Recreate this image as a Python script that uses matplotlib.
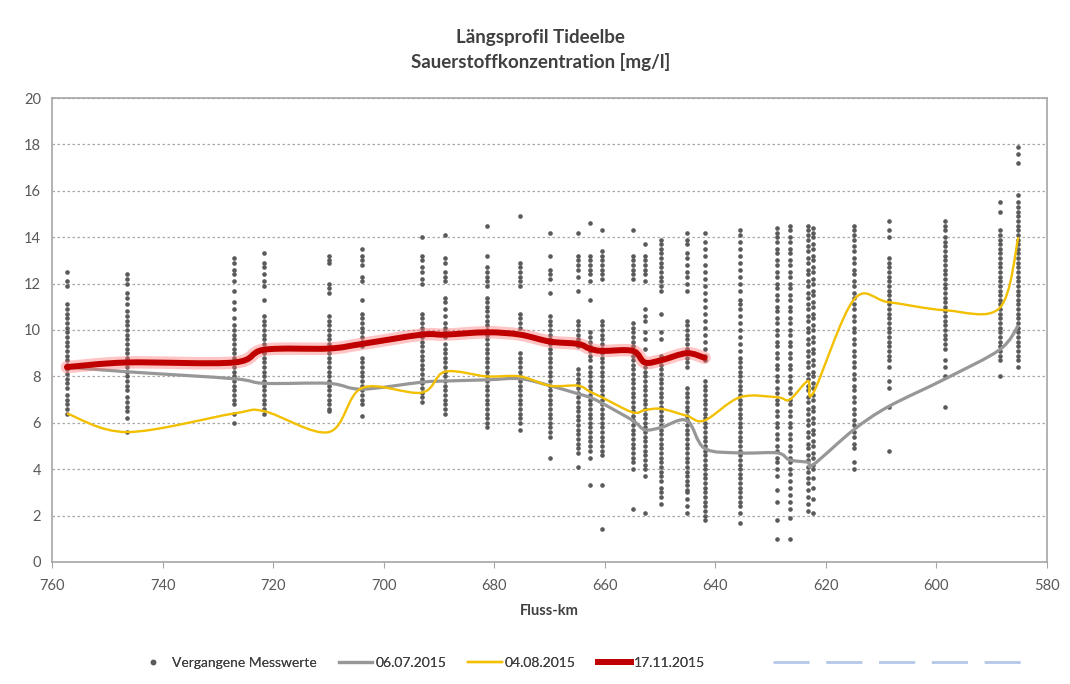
import numpy as np
import matplotlib.pyplot as plt
from matplotlib.path import Path
from matplotlib.patches import PathPatch
from matplotlib.lines import Line2D

plt.rcParams['font.family'] = ['Lato', 'DejaVu Sans']

# Messstationen (Fluss-km)
stationen = [757.3, 746.4, 727.1, 721.6, 709.9, 703.9, 693.1, 688.9, 681.3, 675.3,
             669.9, 664.8, 662.7, 660.5, 654.9, 652.7, 649.7, 645.1, 641.9, 635.5,
             628.7, 626.5, 623.2, 622.2, 614.9, 608.6, 598.3, 588.5, 585.1]

# vergangene Messwerte je Station [mg/l]
messwerte = [
    [12.5, 12.1, 11.9, 11.1, 10.9, 10.7, 10.5, 10.3, 10.1, 9.9, 9.7, 9.5, 9.3, 9.1, 8.9, 8.7, 8.5, 8.3,
     8.1, 7.9, 7.7, 7.5, 7.2, 7.0, 6.8, 6.6, 6.4],
    [12.4, 12.2, 12.0, 11.6, 11.4, 11.1, 10.8, 10.6, 10.4, 10.2, 10.0, 9.8, 9.6, 9.4, 9.2, 9.0, 8.8, 8.6,
     8.4, 8.2, 8.0, 7.8, 7.6, 7.4, 7.1, 6.9, 6.7, 6.5, 6.2, 5.6],
    [13.1, 12.9, 12.6, 12.4, 12.1, 11.7, 11.2, 10.9, 10.5, 10.2, 10.0, 9.8, 9.6, 9.4, 9.2, 9.0, 8.8, 8.6,
     8.4, 8.2, 8.0, 7.8, 7.6, 7.4, 7.2, 7.0, 6.8, 6.4, 6.0],
    [13.3, 12.9, 12.7, 12.4, 12.1, 11.9, 11.3, 10.6, 10.4, 10.2, 10.0, 9.8, 9.6, 9.4, 9.2, 9.0, 8.8, 8.6,
     8.4, 8.2, 8.0, 7.8, 7.6, 7.4, 7.2, 7.0, 6.8, 6.6, 6.4],
    [13.2, 13.0, 12.9, 12.0, 11.8, 11.6, 10.6, 10.4, 10.2, 10.0, 9.8, 9.6, 9.4, 9.2, 9.0, 8.8, 8.6, 8.4,
     8.2, 8.0, 7.8, 7.6, 7.4, 7.2, 7.0, 6.8, 6.6, 6.5],
    [13.5, 13.2, 13.0, 12.8, 12.3, 12.1, 11.3, 10.7, 10.5, 10.3, 10.1, 9.9, 9.7, 9.5, 9.3, 8.8, 8.6, 8.4,
     8.2, 8.0, 7.8, 7.6, 7.4, 7.2, 7.0, 6.8, 6.3],
    [14.0, 13.2, 13.0, 12.7, 12.5, 12.2, 12.0, 10.7, 10.5, 10.3, 10.1, 9.9, 9.7, 9.5, 9.3, 9.1, 8.9, 8.7,
     8.5, 8.3, 8.1, 7.9, 7.7, 7.5, 7.3, 7.1, 6.9],
    [14.1, 13.1, 12.9, 12.5, 12.3, 12.1, 11.4, 11.2, 10.9, 10.6, 10.3, 10.1, 9.9, 9.7, 9.4, 9.2, 9.0, 8.8,
     8.6, 8.4, 8.2, 8.0, 7.8, 7.6, 7.4, 7.2, 7.0, 6.8, 6.6, 6.4],
    [14.5, 13.2, 12.7, 12.5, 12.3, 12.1, 11.9, 11.4, 11.2, 11.0, 10.8, 10.6, 10.4, 10.2, 10.0, 9.8, 9.6,
     9.4, 9.2, 9.0, 8.8, 8.6, 8.4, 8.2, 8.0, 7.8, 7.6, 7.4, 7.2, 7.0, 6.8, 6.6, 6.4, 6.2, 6.0, 5.8],
    [14.9, 12.9, 12.7, 12.5, 12.3, 12.1, 11.9, 10.7, 10.5, 10.3, 10.1, 9.0, 8.8, 8.6, 8.4, 8.2, 8.0, 7.8,
     7.6, 7.4, 7.2, 7.0, 6.8, 6.6, 6.4, 6.2, 6.0, 5.7],
    [14.2, 13.2, 12.6, 12.4, 12.2, 11.6, 10.6, 10.4, 10.2, 10.0, 9.8, 9.6, 9.4, 9.2, 9.0, 8.8, 8.6, 8.4,
     8.2, 8.0, 7.8, 7.6, 7.4, 7.2, 7.0, 6.8, 6.6, 6.4, 6.2, 6.0, 5.8, 5.6, 5.4, 4.5],
    [14.2, 13.2, 13.0, 12.8, 12.6, 12.3, 11.7, 10.4, 10.2, 10.0, 9.8, 9.6, 9.3, 8.3, 8.1, 7.9, 7.7, 7.5,
     7.3, 7.1, 6.9, 6.7, 6.5, 6.3, 6.1, 5.9, 5.7, 5.5, 5.3, 5.1, 4.9, 4.7, 4.1],
    [14.6, 13.2, 13.0, 12.8, 12.6, 12.4, 12.1, 11.3, 9.9, 9.7, 9.5, 9.3, 9.1, 8.9, 8.7, 8.4, 8.2, 8.0,
     7.8, 7.6, 7.4, 7.2, 7.0, 6.8, 6.6, 6.4, 6.2, 6.0, 5.8, 5.6, 5.4, 5.2, 5.0, 4.8, 4.5, 3.3],
    [14.3, 13.4, 13.2, 13.0, 12.8, 12.6, 12.4, 12.2, 10.4, 10.2, 10.0, 9.8, 9.6, 9.4, 9.2, 9.0, 8.8, 8.6,
     8.4, 8.2, 8.0, 7.8, 7.6, 7.4, 7.2, 7.0, 6.8, 6.6, 6.4, 6.2, 6.0, 5.8, 5.6, 5.4, 5.2, 5.0, 4.8, 4.6,
     3.3, 1.4],
    [14.3, 13.2, 13.0, 12.8, 12.6, 12.4, 12.2, 10.3, 10.1, 9.9, 9.7, 9.5, 9.3, 9.1, 8.9, 8.7, 8.5, 8.3,
     8.1, 7.9, 7.7, 7.5, 7.3, 7.1, 6.9, 6.7, 6.5, 6.3, 6.1, 5.9, 5.7, 5.5, 5.3, 5.1, 4.9, 4.7, 4.5, 4.3,
     4.0, 2.3],
    [13.7, 13.2, 13.0, 12.8, 12.6, 12.4, 12.1, 10.9, 10.6, 10.4, 9.9, 9.6, 9.2, 8.4, 8.2, 8.0, 7.8, 7.6,
     7.4, 7.2, 7.0, 6.8, 6.6, 6.4, 6.2, 6.0, 5.8, 5.6, 5.4, 5.2, 5.0, 4.8, 4.6, 4.4, 4.2, 4.0, 3.7, 2.1],
    [13.9, 13.7, 13.5, 13.3, 13.1, 12.9, 12.7, 12.5, 12.3, 12.1, 11.9, 11.7, 10.7, 9.9, 9.6, 8.9, 8.7,
     8.5, 8.3, 8.1, 7.9, 7.7, 7.5, 7.3, 7.1, 6.9, 6.7, 6.5, 6.3, 6.1, 5.9, 5.7, 5.5, 5.3, 5.1, 4.9, 4.7,
     4.5, 4.3, 4.1, 3.9, 3.7, 3.5, 3.2, 3.0, 2.8, 2.5],
    [14.2, 13.9, 13.7, 13.3, 13.1, 12.8, 12.5, 12.3, 12.0, 11.7, 10.4, 10.2, 10.0, 9.8, 9.6, 9.4, 9.2,
     9.0, 8.8, 8.6, 8.4, 7.5, 7.3, 7.1, 6.9, 6.7, 6.5, 6.3, 6.1, 5.9, 5.7, 5.5, 5.3, 5.1, 4.9, 4.7, 4.5,
     4.3, 4.1, 3.9, 3.7, 3.5, 3.3, 3.1, 3.0, 2.7, 2.4, 2.1],
    [14.2, 13.8, 13.5, 13.2, 12.8, 12.5, 12.2, 11.9, 11.6, 11.3, 11.0, 10.7, 10.4, 10.1, 9.8, 9.5, 9.2,
     8.9, 8.7, 7.8, 7.6, 7.4, 7.2, 7.0, 6.8, 6.6, 6.4, 6.2, 6.0, 5.8, 5.6, 5.4, 5.2, 5.0, 4.8, 4.6, 4.4,
     4.2, 4.0, 3.8, 3.6, 3.4, 3.2, 3.0, 2.8, 2.6, 2.4, 2.2, 2.0, 1.8],
    [14.3, 14.1, 13.8, 13.5, 13.2, 12.9, 12.6, 12.3, 12.0, 11.7, 11.3, 11.1, 10.9, 10.6, 10.3, 10.0, 9.7,
     9.4, 9.1, 8.8, 8.6, 8.4, 8.2, 8.0, 7.8, 7.6, 7.4, 7.2, 7.0, 6.8, 6.6, 6.4, 6.2, 6.0, 5.8, 5.6, 5.4,
     5.2, 5.0, 4.8, 4.6, 4.4, 4.2, 4.0, 3.8, 3.6, 3.4, 3.2, 3.0, 2.8, 2.6, 2.4, 2.1, 1.7],
    [14.4, 14.2, 14.0, 13.8, 13.5, 13.3, 13.0, 12.8, 12.5, 12.3, 12.0, 11.8, 11.5, 11.3, 11.0, 10.8, 10.5,
     10.3, 10.0, 9.8, 9.5, 9.3, 9.0, 8.8, 8.5, 8.3, 8.0, 7.8, 7.5, 7.3, 7.0, 6.8, 6.5, 6.3, 6.0, 5.8, 5.5,
     5.3, 5.0, 4.8, 4.5, 4.3, 4.0, 3.7, 3.1, 2.6, 1.8, 1.0],
    [14.5, 14.3, 14.0, 13.8, 13.5, 13.3, 13.0, 12.8, 12.5, 12.3, 12.0, 11.8, 11.5, 11.3, 11.0, 10.8, 10.5,
     10.3, 10.0, 9.8, 9.5, 9.3, 9.0, 8.8, 8.5, 8.3, 8.0, 7.8, 7.5, 7.3, 7.0, 6.8, 6.5, 6.3, 6.0, 5.8, 5.5,
     5.3, 5.0, 4.8, 4.5, 4.3, 4.0, 3.8, 3.5, 3.2, 2.9, 2.6, 2.3, 1.9, 1.0],
    [14.5, 14.3, 14.1, 13.9, 13.6, 13.4, 13.1, 12.9, 12.6, 12.4, 12.1, 11.9, 11.6, 11.4, 11.1, 10.9, 10.6,
     10.4, 10.1, 9.9, 9.6, 9.4, 9.1, 8.9, 8.6, 8.4, 8.1, 7.9, 7.6, 7.4, 7.1, 6.9, 6.6, 6.4, 6.1, 5.9, 5.6,
     5.4, 5.1, 4.9, 4.6, 4.4, 4.1, 3.9, 3.6, 3.4, 3.1, 2.8, 2.5, 2.2],
    [14.4, 14.2, 14.0, 13.7, 13.5, 13.2, 13.0, 12.7, 12.5, 12.2, 12.0, 11.7, 11.5, 11.2, 11.0, 10.7, 10.5,
     10.2, 10.0, 9.7, 9.5, 9.2, 9.0, 8.7, 8.5, 8.2, 8.0, 7.7, 7.5, 7.2, 7.0, 6.7, 6.5, 6.2, 6.0, 5.7, 5.5,
     5.2, 5.0, 4.7, 4.5, 4.2, 4.0, 3.6, 3.2, 2.7, 2.1],
    [14.5, 14.3, 14.1, 13.9, 13.6, 13.4, 13.1, 12.9, 12.6, 12.4, 12.1, 11.9, 11.6, 11.4, 11.1, 10.9, 10.6,
     10.4, 10.1, 9.9, 9.6, 9.4, 9.1, 8.9, 8.6, 8.4, 8.1, 7.9, 7.6, 7.4, 7.1, 6.9, 6.6, 6.4, 6.1, 5.9, 5.6,
     5.4, 5.1, 4.9, 4.3, 4.0],
    [14.7, 14.3, 14.0, 13.1, 12.9, 12.7, 12.5, 12.3, 12.1, 11.9, 11.7, 11.5, 11.3, 11.1, 10.9, 10.7, 10.5,
     10.3, 10.1, 9.9, 9.7, 9.5, 9.3, 9.1, 8.9, 8.7, 8.4, 7.8, 7.5, 6.7, 4.8],
    [14.7, 14.5, 14.3, 14.0, 13.8, 13.6, 13.4, 13.2, 13.0, 12.8, 12.6, 12.4, 12.2, 12.0, 11.8, 11.6, 11.4,
     11.2, 11.0, 10.8, 10.6, 10.4, 10.2, 10.0, 9.8, 9.6, 9.4, 9.2, 8.7, 8.4, 8.0, 6.7],
    [15.5, 15.1, 14.3, 14.1, 13.9, 13.7, 13.5, 13.3, 13.1, 12.9, 12.7, 12.5, 12.3, 12.1, 11.9, 11.7, 11.5,
     11.3, 11.1, 10.9, 10.7, 10.5, 10.3, 10.1, 9.9, 9.7, 9.5, 9.3, 9.1, 8.9, 8.7, 8.0],
    [17.9, 17.6, 17.2, 15.8, 15.5, 15.3, 15.1, 14.9, 14.7, 14.5, 14.3, 14.1, 13.9, 13.7, 13.5, 13.3, 13.1,
     12.9, 12.7, 12.5, 12.3, 12.1, 11.9, 11.7, 11.5, 11.3, 11.1, 10.9, 10.7, 10.5, 10.3, 10.1, 9.9, 9.7,
     9.5, 9.3, 9.1, 8.9, 8.7, 8.4],
]

# Längsprofile der einzelnen Messfahrten
juli = [8.4, 8.2, 7.9, 7.7, 7.7, 7.45, 7.75, 7.8, 7.85, 7.9, 7.6, 7.25, 7.1, 6.85, 6.1, 5.7, 5.8, 6.1,
        4.9, 4.7, 4.7, 4.4, 4.3, 4.2, 5.7, 6.7, 7.9, 9.15, 10.2]
august = [6.4, 5.6, 6.4, 6.5, 5.6, 7.5, 7.3, 8.2, 8.0, 8.0, 7.6, 7.6, 7.35, 7.1, 6.45, 6.55, 6.6, 6.3,
          6.1, 7.1, 7.1, 7.0, 7.8, 7.3, 11.3, 11.2, 10.85, 10.95, 14.0]
november = [8.4, 8.6, 8.6, 9.15, 9.2, 9.4, 9.8, 9.8, 9.9, 9.8, 9.5, 9.4, 9.2, 9.1, 9.1, 8.6, 8.7, 9.0, 8.8]

x_ticks = [760, 740, 720, 700, 680, 660, 640, 620, 600, 580]
y_ticks = [0, 2, 4, 6, 8, 10, 12, 14, 16, 18, 20]


def glatte_kurve(x, y):
    # geglättete Linie wie in Excel: kubische Bezier-Segmente durch alle Punkte
    p = np.column_stack([x, y]).astype(float)
    n = len(p)
    verts = [p[0]]
    codes = [Path.MOVETO]
    for i in range(n - 1):
        p0 = p[max(i - 1, 0)]
        p1 = p[i]
        p2 = p[i + 1]
        p3 = p[min(i + 2, n - 1)]
        verts += [p1 + (p2 - p0) / 6, p2 - (p3 - p1) / 6, p2]
        codes += [Path.CURVE4] * 3
    return Path(verts, codes)


fig = plt.figure(figsize=(10.7, 6.84), dpi=100)
ax = fig.add_axes([0.0486, 0.1784, 0.9295, 0.6783])

# Punktwolke der alten Messungen
xs = np.concatenate([[km] * len(w) for km, w in zip(stationen, messwerte)])
ys = np.concatenate(messwerte)
ax.scatter(xs, ys, s=11, color='#5a5a5a', linewidths=0, zorder=2)

ax.add_patch(PathPatch(glatte_kurve(stationen, juli), fill=False, edgecolor='#979797', lw=2.3, zorder=3))
ax.add_patch(PathPatch(glatte_kurve(stationen, august), fill=False, edgecolor='#f2c000', lw=1.7, zorder=4))
rot = glatte_kurve(stationen[:len(november)], november)
ax.add_patch(PathPatch(rot, fill=False, edgecolor='#ff6f6f', lw=9, alpha=0.4, zorder=5,
                       capstyle='round'))
ax.add_patch(PathPatch(rot, fill=False, edgecolor='#c00000', lw=4.3, zorder=6, capstyle='round'))

ax.set_xlim(760, 580)
ax.set_ylim(0, 20)
ax.set_xticks(x_ticks)
ax.set_yticks(y_ticks)
ax.tick_params(axis='both', labelsize=10.5, colors='#595959', length=0, pad=8)
ax.tick_params(axis='x', length=4, color='#a6a6a6', pad=8)
ax.grid(axis='y', linestyle=(0, (2, 2)), color='#a8a8a8', lw=0.9)
ax.set_axisbelow(True)
for s in ax.spines.values():
    s.set_color('#a6a6a6')
    s.set_linewidth(1.2)

ax.set_xlabel('Fluss-km', fontsize=10.5, fontweight='bold', color='#404040', labelpad=8)

fig.text(0.505, 0.945, 'Längsprofil Tideelbe', ha='center', va='center',
         fontsize=13.5, fontweight='bold', color='#404040')
fig.text(0.505, 0.909, 'Sauerstoffkonzentration [mg/l]', ha='center', va='center',
         fontsize=13.5, fontweight='bold', color='#404040')

handles = [
    Line2D([], [], marker='o', ls='none', color='#5a5a5a', markersize=3),
    Line2D([], [], color='#979797', lw=2.3),
    Line2D([], [], color='#f2c000', lw=1.7),
    Line2D([], [], color='#c00000', lw=4.3),
]
labels = ['Vergangene Messwerte', '06.07.2015', '04.08.2015', '17.11.2015']
leg = fig.legend(handles, labels, loc='center', bbox_to_anchor=(0.393, 0.031), ncol=4, frameon=False,
                 fontsize=10, handlelength=2.4, handletextpad=0.2, columnspacing=1.6)
for t in leg.get_texts():
    t.set_color('#404040')
fig.add_artist(leg)

leer = Line2D([], [], color='#b4c7e7', lw=2, linestyle=(0, (13, 6)))
fig.legend([leer], [''], loc='center', bbox_to_anchor=(0.845, 0.031), frameon=False,
           fontsize=10.5, handlelength=18, handletextpad=0)

fig.savefig('out.png', dpi=100)
